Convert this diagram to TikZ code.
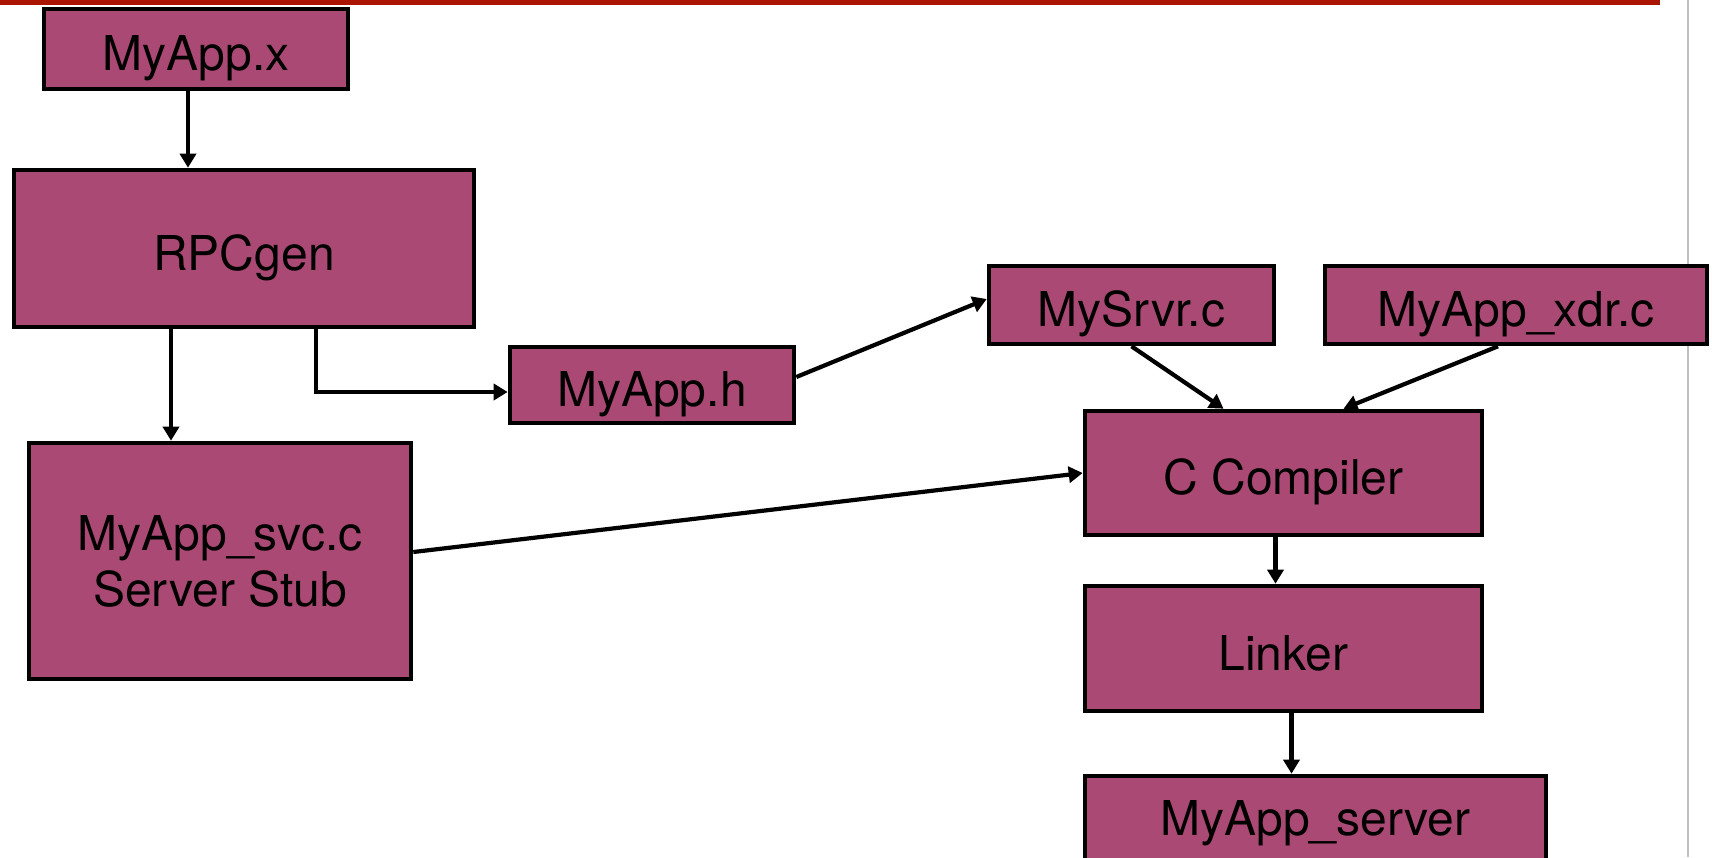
\documentclass[tikz,border=0pt]{standalone}
\usepackage{fontspec}
\setmainfont{TeX Gyre Heros}
\usetikzlibrary{arrows.meta}
\definecolor{boxfill}{RGB}{170,74,116}
\definecolor{topbar}{RGB}{170,20,0}
\definecolor{edgegray}{RGB}{192,192,192}
\begin{document}
\begin{tikzpicture}[x=0.5pt,y=-0.5pt,
  blk/.style={draw=black, line width=2.3pt, fill=boxfill, inner sep=0pt,
    align=center, font=\fontsize{24pt}{28pt}\selectfont},
  one/.style={text height=21.5pt, text depth=0pt},
  arr/.style={draw=black, line width=2.1pt,
    -{Triangle[length=7pt,width=8pt]}}]
\useasboundingbox (0,0) rectangle (1712,857);
% page decoration: red rule on top, grey margin line on the right
\fill[topbar] (0,0) rectangle (1660,5);
\fill[edgegray] (1687,0) rectangle (1689,857);

% boxes
\node[blk, one, minimum width=152pt, minimum height=40pt] (x) at (196,49) {MyApp.x};
\node[blk, one, minimum width=230pt, minimum height=78.5pt] (rpc) at (244,248.5) {RPCgen};
\node[blk, one, minimum width=142pt, minimum height=38pt] (h) at (652,385) {MyApp.h};
\node[blk, minimum width=191pt, minimum height=118pt] (svc) at (220,561) {MyApp\_svc.c\\Server Stub};
\node[blk, one, minimum width=142.5pt, minimum height=39pt] (srv) at (1131.5,305) {MySrvr.c};
\node[blk, one, minimum width=191pt, minimum height=39pt] (xdr) at (1516,305) {MyApp\_xdr.c};
\node[blk, one, minimum width=198.5pt, minimum height=62pt] (cc) at (1283.5,473) {C Compiler};
\node[blk, one, minimum width=198.5pt, minimum height=62.5pt] (lnk) at (1283.5,648.5) {Linker};
% the last box runs on past the lower edge of the page
\node[blk, text height=21.5pt, text depth=14pt, minimum width=230.5pt, minimum height=52pt]
  (out) at (1315.5,828) {MyApp\_server};

% connectors
\draw[arr] ([xshift=-4pt]x.south) -- ([xshift=-4pt]x.south |- rpc.north);
\draw[arr] ([xshift=-36.5pt]rpc.south) -- ([xshift=-36.5pt]rpc.south |- svc.north);
\draw[arr] ([xshift=36pt]rpc.south) |- ([yshift=-3.5pt]h.west);
\draw[arr] ([yshift=4pt]h.east) -- ([yshift=3pt]srv.west);
\draw[arr] (srv.south) -- ([xshift=-30pt]cc.north);
\draw[arr] ([xshift=-9pt]xdr.south) -- ([xshift=30pt]cc.north);
\draw[arr] ([yshift=4.5pt]svc.east) -- (cc.west);
\draw[arr] ([xshift=-4pt]cc.south) -- ([xshift=-4pt]cc.south |- lnk.north);
\draw[arr] ([xshift=4pt]lnk.south) -- ([xshift=4pt]lnk.south |- out.north);
\end{tikzpicture}
\end{document}
